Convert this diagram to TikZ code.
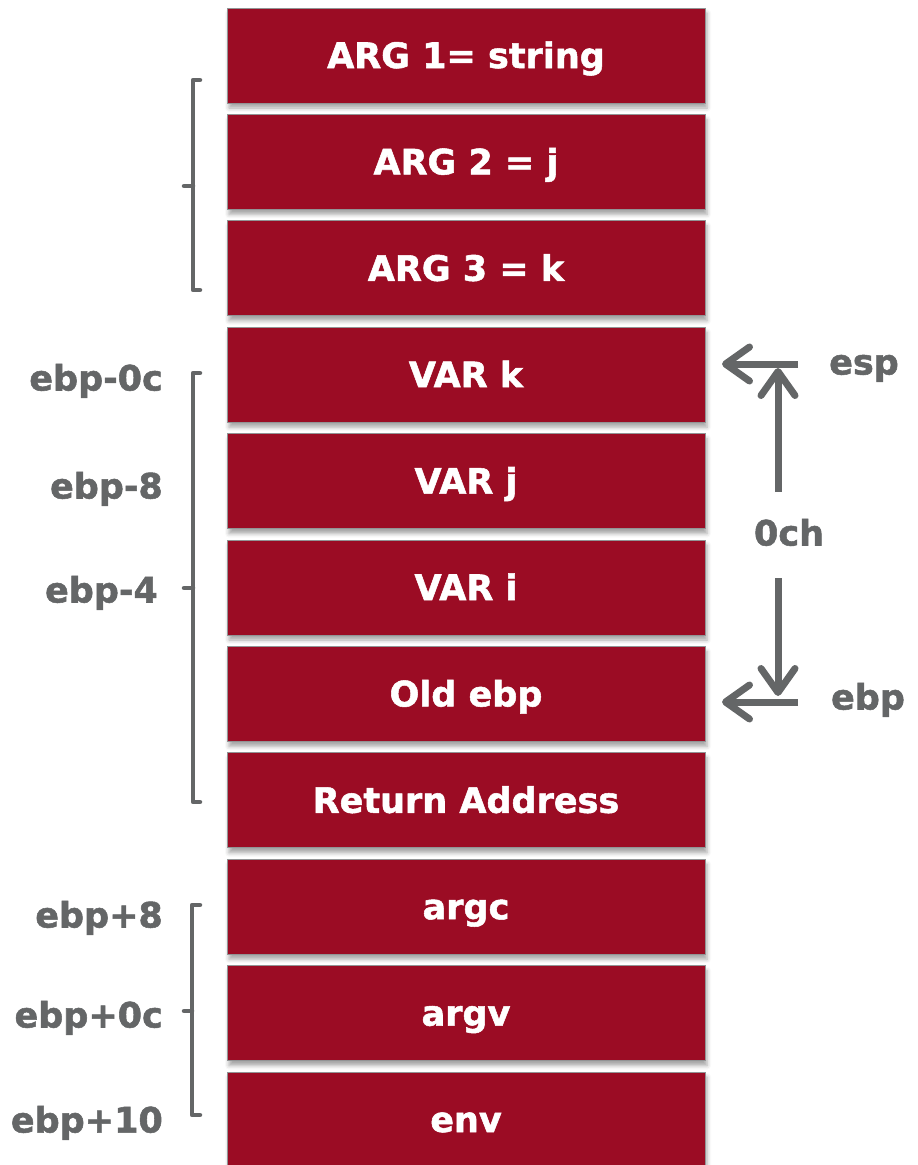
\documentclass[tikz,border=0pt]{standalone}
\usepackage{fontspec}
\setmainfont{DejaVu Sans}[BoldFeatures={FakeBold=1.5}]
\usetikzlibrary{arrows.meta,shadows.blur}
\definecolor{boxred}{HTML}{9B0C24}
\definecolor{gr}{HTML}{646667}
\tikzset{
  cell/.style={draw=gr!70, line width=1pt, fill=boxred, minimum width=478pt, minimum height=95pt, inner sep=0pt,
    text=white, font=\bfseries\fontsize{35}{40}\selectfont, text height=25pt, text depth=0pt,
    blur shadow={shadow xshift=2pt, shadow yshift=-5pt, shadow blur radius=4pt, shadow opacity=35}},
  lbl/.style={text=gr, font=\bfseries\fontsize{35}{40}\selectfont, inner sep=0pt, text height=25pt, text depth=0pt},
  brk/.style={draw=gr, line width=4.5pt, line cap=round, line join=round},
  ptr/.style={draw=gr, line width=7pt, -{Straight Barb[length=24pt, width=34pt, round, line width=7pt]}},
}
\begin{document}
\begin{tikzpicture}[x=1pt,y=-1pt]
\useasboundingbox (0,0) rectangle (918,1165);
\clip (0,0) rectangle (918,1165);
\foreach \n/\t/\i in {a1/{ARG 1= string}/0, a2/{ARG 2 = j}/1, a3/{ARG 3 = k}/2, vk/{VAR k}/3, vj/{VAR j}/4, vi/{VAR i}/5, oe/{Old ebp}/6, ra/{Return Address}/7, ac/{argc}/8, av/{argv}/9, en/{env}/10}
  \node[cell] (\n) at (466, 55.5+106.4*\i) {\t};
% brackets
\draw[brk] (200,80) -- (193,80) -- (193,290) -- (200,290);
\draw[brk] (193,186) -- (184,186);
\draw[brk] (200,373) -- (193,373) -- (193,802) -- (200,802);
\draw[brk] (193,588) -- (184,588);
\draw[brk] (200,905) -- (192,905) -- (192,1115) -- (200,1115);
\draw[brk] (192,1011) -- (184,1011);
% left labels
\node[lbl, anchor=east] (l1) at (163,378) {ebp-0c};
\node[lbl, anchor=east] (l2) at (163,486) {ebp-8};
\node[lbl, anchor=east] (l3) at (158,590) {ebp-4};
\node[lbl, anchor=east] (l4) at (163,915) {ebp+8};
\node[lbl, anchor=east] (l5) at (163,1015) {ebp+0c};
\node[lbl, anchor=east] (l6) at (163,1120) {ebp+10};
% right pointers
\node[lbl] (esp) at (864,362) {esp};
\node[lbl] (ebp) at (868,697) {ebp};
\node[lbl] (och) at (789,533) {0ch};
\coordinate (espS) at (798,364);
\coordinate (espT) at (722,364);
\coordinate (ebpS) at (798,702);
\coordinate (ebpT) at (722,702);
\draw[ptr] (espS) -- (espT);
\draw[ptr] (ebpS) -- (ebpT);
\coordinate (upS) at (778,492);
\coordinate (upT) at (778,368);
\coordinate (dnS) at (778,578);
\coordinate (dnT) at (778,696);
\draw[ptr] (upS) -- (upT);
\draw[ptr] (dnS) -- (dnT);
\end{tikzpicture}
\end{document}
